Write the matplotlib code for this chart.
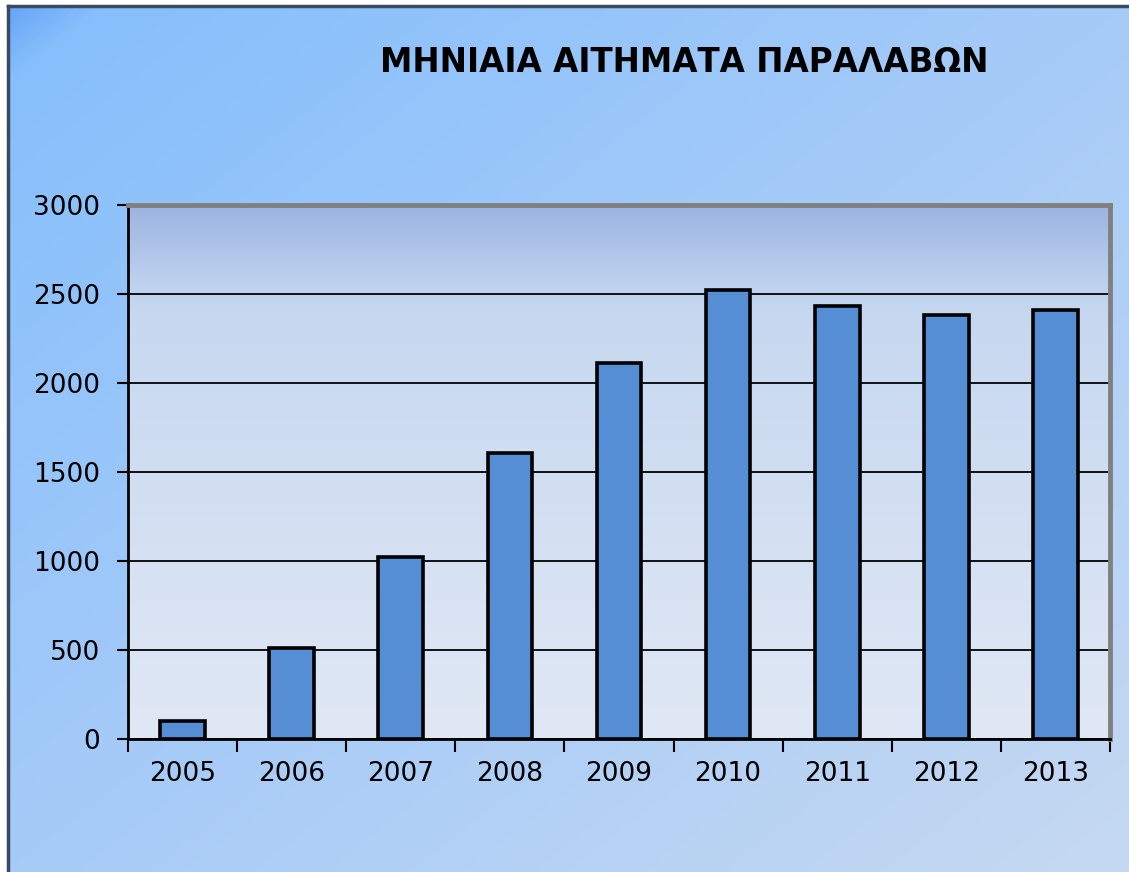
import numpy as np
import matplotlib
matplotlib.use("Agg")
from matplotlib import pyplot as plt
from matplotlib.colors import LinearSegmentedColormap

# data
years = ['2005', '2006', '2007', '2008', '2009', '2010', '2011', '2012', '2013']
requests = [100, 510, 1020, 1605, 2110, 2520, 2435, 2380, 2410]
title = 'ΜΗΝΙΑΙΑ ΑΙΤΗΜΑΤΑ ΠΑΡΑΛΑΒΩΝ'

W, H = 1129, 872
fig = plt.figure(figsize=(W / 100, H / 100), dpi=100)
fig.patch.set_facecolor('white')

# background of the chart frame: diagonal gradient
bg = fig.add_axes([8 / W, 0, 1 - 8 / W, 1 - 6 / H])
bg.set_axis_off()
gx, gy = np.meshgrid(np.linspace(0, 1, 400), np.linspace(0, 1, 400))
t = (gx + gy) / 2
bg_cmap = LinearSegmentedColormap.from_list(
    'bgc', [(0, '#68a5f7'), (0.04, '#86bffc'), (0.5, '#a6cbf8'), (1, '#c6d9f1')])
bg.imshow(t, cmap=bg_cmap, aspect='auto', extent=[0, 1, 0, 1], origin='upper')
bg.set_xlim(0, 1)
bg.set_ylim(0, 1)
bg.plot([0, 0], [0, 1], color='#3a4a60', lw=2.5, clip_on=False)
bg.plot([0, 1], [1, 1], color='#3a4a60', lw=2.5, clip_on=False)

ax = fig.add_axes([128 / W, 1 - 739 / H, (1110 - 128) / W, (739 - 205) / H])
ax.set_xlim(-0.5, len(years) - 0.5)
ax.set_ylim(0, 3000)

# plot area gradient (vertical)
pa_cmap = LinearSegmentedColormap.from_list(
    'pac', [(0, '#e1e8f5'), (0.8, '#c6d8f0'), (0.86, '#bcd0ee'), (1, '#9bb4e0')])
grad = np.linspace(0, 1, 256).reshape(-1, 1)
ax.imshow(grad, cmap=pa_cmap, aspect='auto', origin='lower',
          extent=[-0.5, len(years) - 0.5, 0, 3000], zorder=0)

ax.yaxis.grid(True, color='black', lw=1.3, zorder=1)
ax.set_axisbelow(True)

x = np.arange(len(years))
ax.bar(x, requests, width=0.41, color='#558ed5', edgecolor='black', lw=2.6, zorder=3)

ax.set_yticks(np.arange(0, 3001, 500))
ax.set_xticks(np.arange(-0.5, len(years), 1))
ax.set_xticklabels([])
ax.set_xticks(x, minor=True)
ax.set_xticklabels(years, minor=True)
ax.tick_params(axis='x', which='major', length=9, width=1.5, direction='out', color='black')
ax.tick_params(axis='x', which='minor', length=0, pad=16, labelsize=19)
ax.tick_params(axis='y', length=8, width=1.5, direction='out', labelsize=19, pad=12)

ax.spines['left'].set_color('black')
ax.spines['left'].set_linewidth(2)
ax.spines['bottom'].set_color('black')
ax.spines['bottom'].set_linewidth(2)
ax.spines['top'].set_color('#808080')
ax.spines['top'].set_linewidth(3.5)
ax.spines['right'].set_color('#808080')
ax.spines['right'].set_linewidth(3.5)

fig.text(684 / W, 1 - 63 / H, title, ha='center', va='center',
         fontsize=23.5, fontweight='bold', color='black')

fig.savefig('out.png', dpi=100)
